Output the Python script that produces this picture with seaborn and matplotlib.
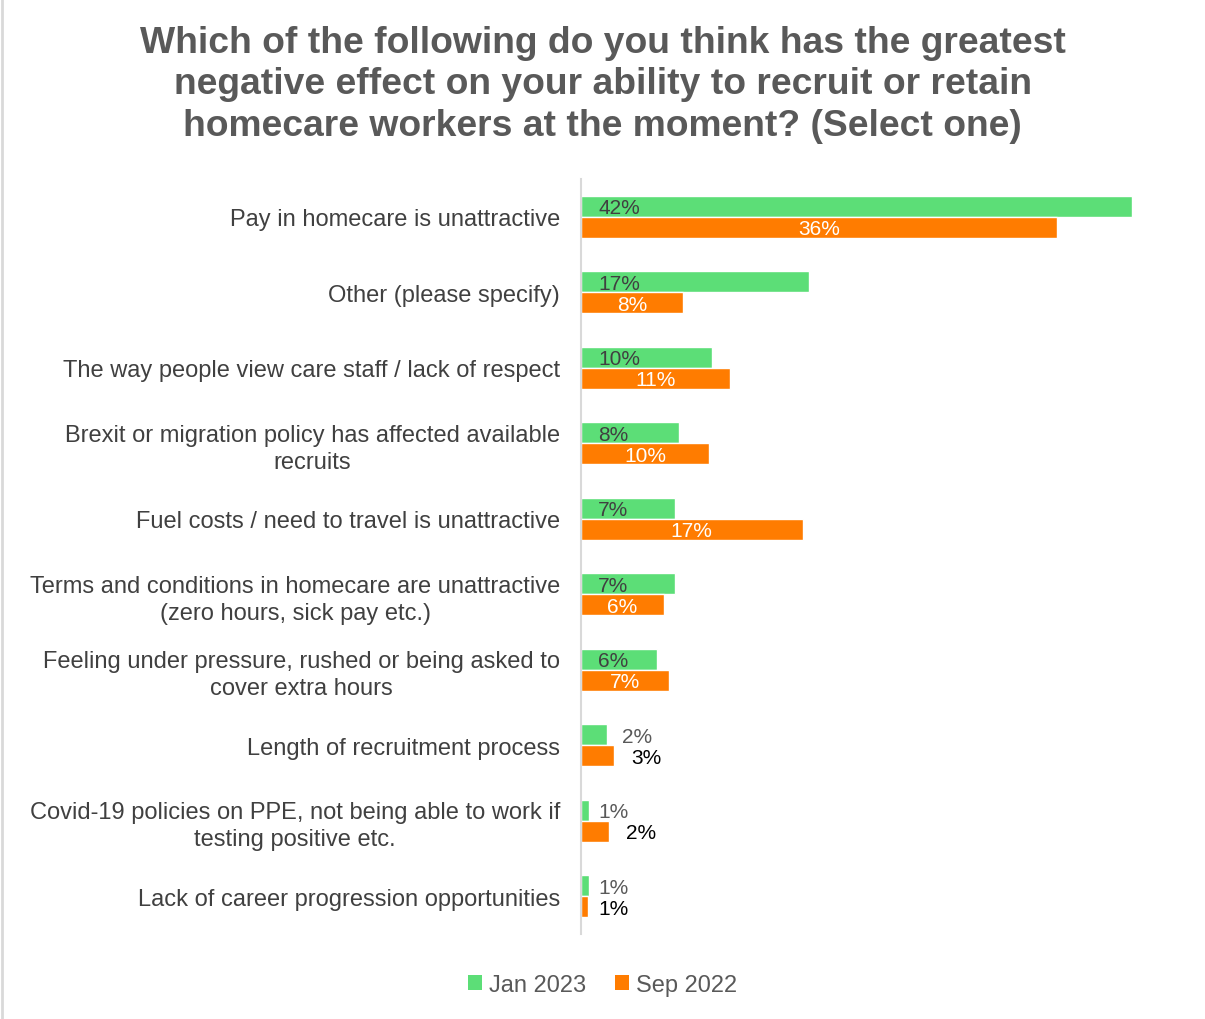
import matplotlib
matplotlib.use("Agg")
import matplotlib.pyplot as plt
import seaborn as sns
import pandas as pd
from matplotlib.lines import Line2D
from matplotlib.patches import Patch

categories = [
    "Pay in homecare is unattractive",
    "Other (please specify)",
    "The way people view care staff / lack of respect",
    "Brexit or migration policy has affected available\nrecruits",
    "Fuel costs / need to travel is unattractive",
    "Terms and conditions in homecare are unattractive\n(zero hours, sick pay etc.)",
    "Feeling under pressure, rushed or being asked to\ncover extra hours",
    "Length of recruitment process",
    "Covid-19 policies on PPE, not being able to work if\ntesting positive etc.",
    "Lack of career progression opportunities",
]
jan_2023 = [42.0, 17.4, 10.0, 7.5, 7.2, 7.2, 5.8, 2.0, 0.6, 0.6]
sep_2022 = [36.3, 7.8, 11.4, 9.8, 16.9, 6.3, 6.7, 2.5, 2.1, 0.5]
jan_labels = ["42%", "17%", "10%", "8%", "7%", "7%", "6%", "2%", "1%", "1%"]
sep_labels = ["36%", "8%", "11%", "10%", "17%", "6%", "7%", "3%", "2%", "1%"]
series = ["Jan 2023", "Sep 2022"]
colors = ["#5CDE77", "#FF7C00"]

df = pd.DataFrame({
    "category": categories * 2,
    "value": jan_2023 + sep_2022,
    "series": [series[0]] * len(categories) + [series[1]] * len(categories),
})

sns.set_style("white")
plt.rcParams["font.family"] = ["Liberation Sans", "DejaVu Sans"]

fig = plt.figure(figsize=(12.05, 10.2), dpi=100)
ax = fig.add_axes([581 / 1205, 1 - 935 / 1020, (1171 - 581) / 1205, (935 - 180) / 1020])

sns.barplot(data=df, y="category", x="value", hue="series", palette=colors,
            orient="h", width=0.55, ax=ax, legend=False, saturation=1)

ax.set_xlim(0, 45)
ax.set_xlabel("")
ax.set_ylabel("")
ax.set_xticks([])
for s in ["top", "right", "bottom"]:
    ax.spines[s].set_visible(False)
ax.spines["left"].set_color("#d9d9d9")
ax.spines["left"].set_linewidth(1.5)
ax.tick_params(axis="y", length=0, pad=15, labelsize=17, labelcolor="#404040")
for lbl in ax.get_yticklabels():
    lbl.set_multialignment("center")
    lbl.set_linespacing(1.3)

# data labels
for i, bar in enumerate(ax.containers[0]):
    v = jan_2023[i]
    yc = bar.get_y() + bar.get_height() / 2 + 0.02
    if v >= 5:
        ax.text(1.3, yc, jan_labels[i], ha="left", va="center", fontsize=15, color="#404040")
    else:
        ax.text(v + 1.1 if v > 1 else 1.35, yc, jan_labels[i], ha="left", va="center",
                fontsize=15, color="#595959")
for i, bar in enumerate(ax.containers[1]):
    v = sep_2022[i]
    yc = bar.get_y() + bar.get_height() / 2 + 0.02
    if v >= 5:
        ax.text(v / 2, yc, sep_labels[i], ha="center", va="center", fontsize=15, color="white")
    else:
        ax.text(v + 1.3 if v > 1 else 1.35, yc, sep_labels[i], ha="left", va="center",
                fontsize=15, color="black")

fig.text(0.5, 1 - 85 / 1020,
         "Which of the following do you think has the greatest\nnegative effect on your ability to recruit or retain\nhomecare workers at the moment? (Select one)",
         ha="center", va="center", fontsize=26.8, fontweight="bold", color="#595959",
         linespacing=1.25)

handles = [Patch(facecolor=c, edgecolor="none") for c in colors]
fig.legend(handles, series, loc="center", bbox_to_anchor=(0.5, 1 - 986 / 1020),
           ncol=2, frameon=False, fontsize=17, labelcolor="#595959",
           handlelength=0.6, handleheight=0.6, handletextpad=0.3, columnspacing=1.2)

fig.add_artist(Line2D([2 / 1205, 2 / 1205], [0, 1], color="#d9d9d9", lw=2, transform=fig.transFigure))

fig.savefig("out.png", dpi=100, facecolor="white")
